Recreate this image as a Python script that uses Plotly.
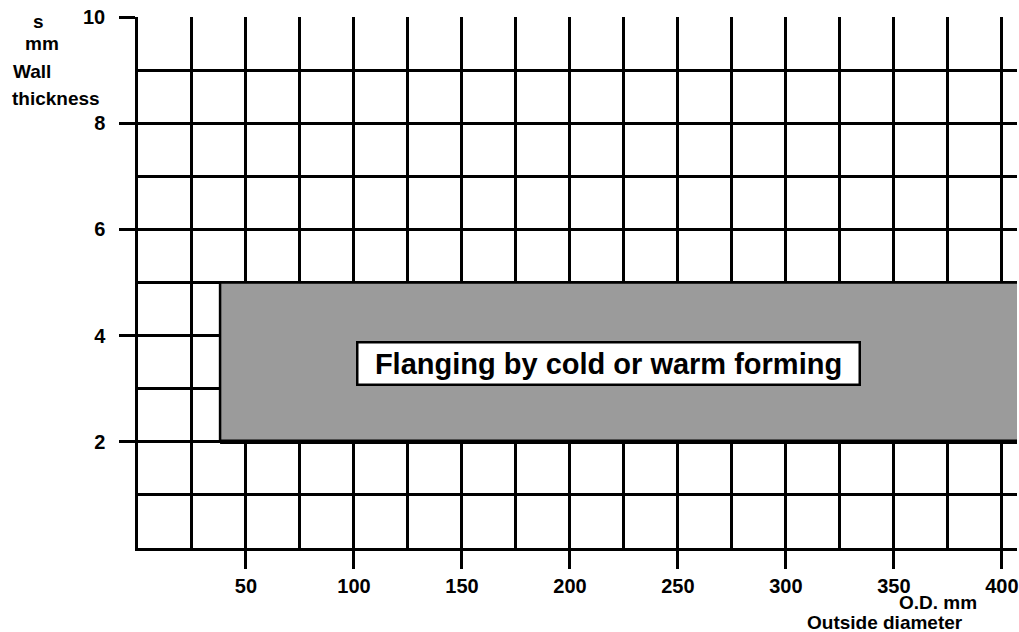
import plotly.graph_objects as go

# Axis ticks and grid positions
x_tick_vals = [50, 100, 150, 200, 250, 300, 350, 400]
x_minor_vals = [25, 75, 125, 175, 225, 275, 325, 375]
y_tick_vals = [2, 4, 6, 8, 10]
y_minor_vals = [1, 3, 5, 7, 9]

# Flanging region: outside diameter from 38 mm upward, wall thickness 2..5 mm
region_od_min = 38
region_od_max = 407
region_s_min = 2
region_s_max = 5
region_label = "Flanging by cold or warm forming"
region_label_pos = (218, 3.48)

X_RANGE = [0, 407]
Y_RANGE = [0, 10]

FONT = "Liberation Sans, Arial, sans-serif"
BLACK = "#000000"
GREY = "#9b9b9b"

fig = go.Figure()

# filled region
fig.add_trace(go.Scatter(
    x=[region_od_min, region_od_max, region_od_max, region_od_min, region_od_min],
    y=[region_s_min, region_s_min, region_s_max, region_s_max, region_s_min],
    fill="toself", fillcolor=GREY, mode="none", hoverinfo="skip", showlegend=False,
))
# outline: top and left edges
fig.add_trace(go.Scatter(
    x=[region_od_max, region_od_min, region_od_min],
    y=[region_s_max, region_s_max, region_s_min],
    mode="lines", line=dict(color=BLACK, width=2.5), hoverinfo="skip", showlegend=False,
))
# heavy bottom edge
fig.add_trace(go.Scatter(
    x=[region_od_min, region_od_max],
    y=[region_s_min, region_s_min],
    mode="lines", line=dict(color=BLACK, width=4.5), hoverinfo="skip", showlegend=False,
))

fig.add_annotation(
    x=region_label_pos[0], y=region_label_pos[1], xref="x", yref="y",
    text="<b>" + region_label + "</b>", showarrow=False,
    font=dict(family=FONT, size=29, color=BLACK),
    width=500, height=40, align="center",
    bgcolor="white", bordercolor=BLACK, borderwidth=2.5, borderpad=0,
)

L, R, T, B = 138, 0, 17, 84
W, H = 1019, 632
PW, PH = W - L - R, H - T - B


def px(x):
    return (x - L) / PW


def py(y):
    return (H - B - y) / PH


def label(text, x, y, xanchor="center"):
    fig.add_annotation(
        x=px(x), y=py(y), xref="paper", yref="paper", text="<b>" + text + "</b>",
        showarrow=False, xanchor=xanchor, yanchor="middle",
        font=dict(family=FONT, size=19, color=BLACK),
    )


label("s", 38, 22)
label("mm", 42, 44)
label("Wall", 11, 72, "left")
label("thickness", 10, 98, "left")
label("O.D. mm", 940, 602)
label("Outside diameter", 887, 622)

grid = dict(showgrid=True, gridcolor=BLACK, gridwidth=2.5)

fig.update_xaxes(
    range=X_RANGE, tickmode="array", tickvals=x_tick_vals,
    ticks="outside", ticklen=18, tickwidth=2.5, tickcolor=BLACK,
    showline=True, linecolor=BLACK, linewidth=2.5,
    tickfont=dict(family=FONT, size=20, color=BLACK, weight="bold"),
    ticklabeloverflow="allow",
    zeroline=False,
    minor=dict(tickmode="array", tickvals=x_minor_vals, ticks="", showgrid=True,
               gridcolor=BLACK, gridwidth=2.5),
    **grid,
)
fig.update_yaxes(
    range=Y_RANGE, tickmode="array", tickvals=y_tick_vals,
    ticks="outside", ticklen=16, tickwidth=2.5, tickcolor=BLACK,
    showline=True, linecolor=BLACK, linewidth=2.5,
    tickfont=dict(family=FONT, size=20, color=BLACK, weight="bold"),
    ticklabelstandoff=10,
    zeroline=False,
    minor=dict(tickmode="array", tickvals=y_minor_vals, ticks="", showgrid=True,
               gridcolor=BLACK, gridwidth=2.5),
    **grid,
)

fig.update_layout(
    width=W, height=H,
    margin=dict(l=L, r=R, t=T, b=B),
    plot_bgcolor="white", paper_bgcolor="white",
    showlegend=False,
)

fig.write_html("out.html")
